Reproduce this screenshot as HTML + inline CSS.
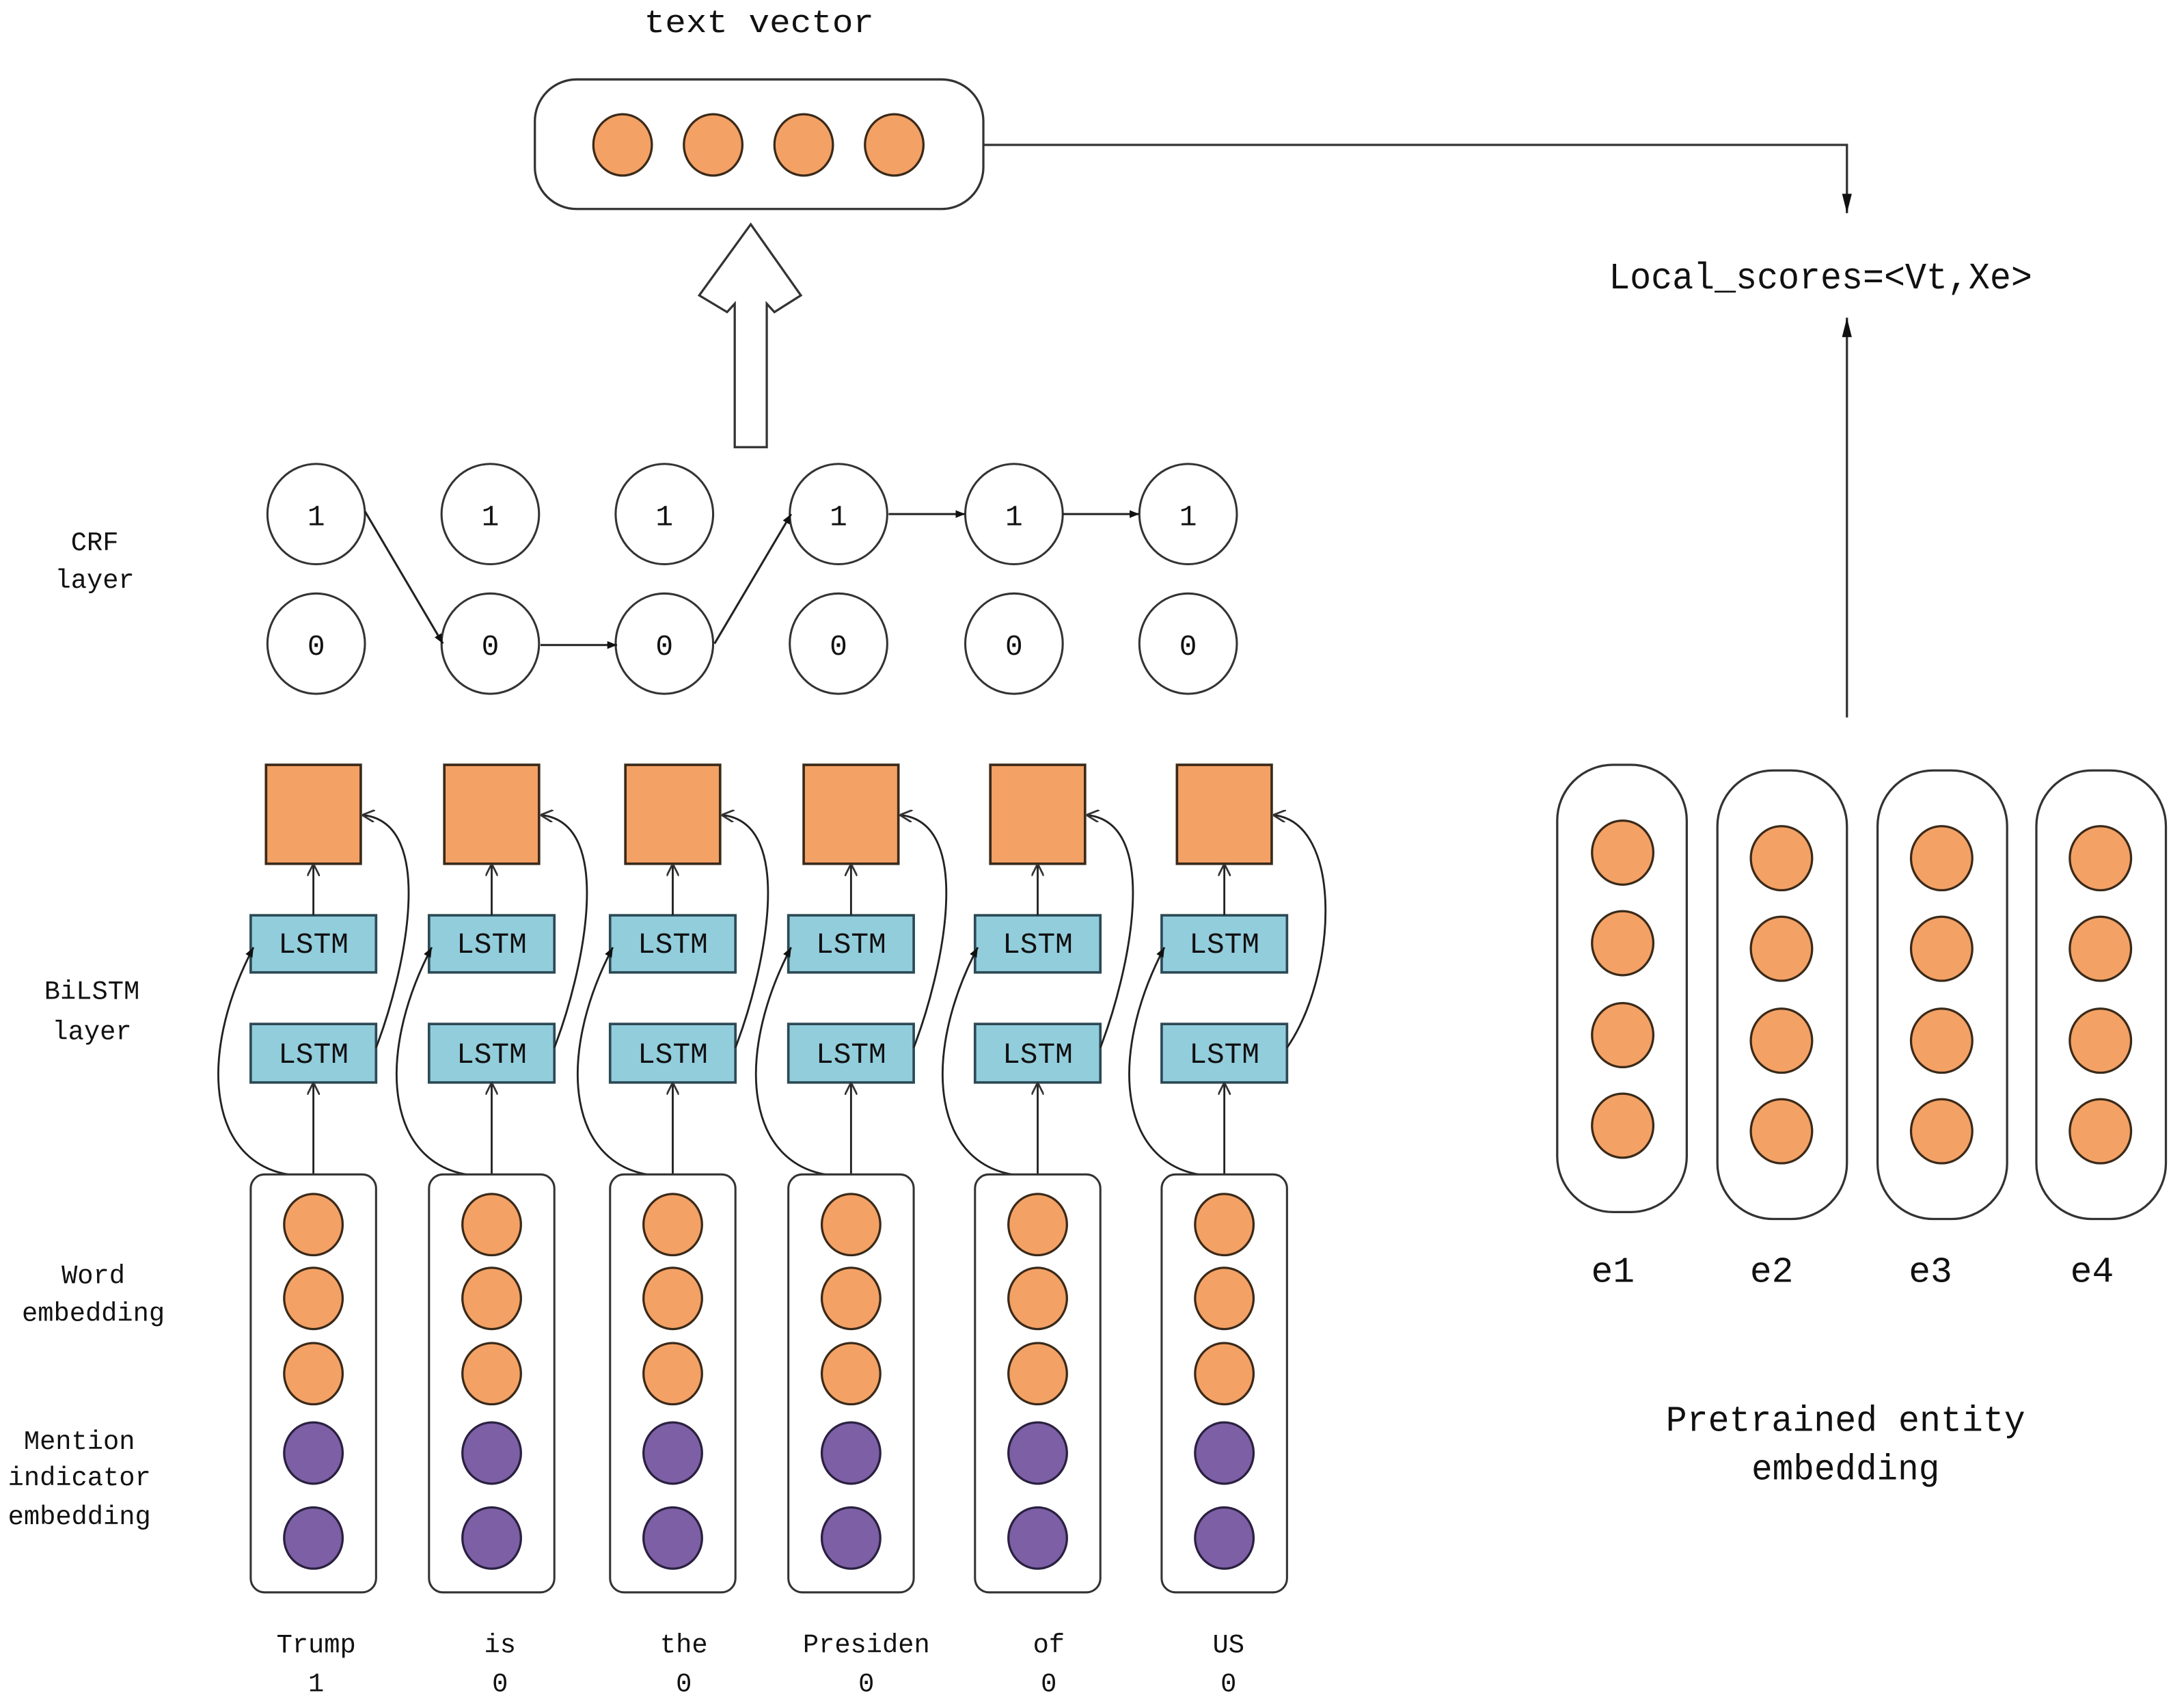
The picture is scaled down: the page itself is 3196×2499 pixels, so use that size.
<!DOCTYPE html>
<html><head><meta charset="utf-8"><style>
html,body{margin:0;padding:0;background:#fff;}
svg{display:block;}
text{font-family:"Liberation Mono","DejaVu Sans Mono",monospace;fill:#111;}
</style></head><body>
<svg width="3196" height="2499" viewBox="0 0 1568 1226" preserveAspectRatio="none" xmlns="http://www.w3.org/2000/svg">
<defs>
<marker id="ah" viewBox="0 0 10 10" refX="10" refY="5" markerWidth="7" markerHeight="7" orient="auto-start-reverse" markerUnits="userSpaceOnUse">
<path d="M0,1 L10,5 L0,9 z" fill="#111"/></marker>
<marker id="ao" viewBox="0 0 10 10" refX="10" refY="5" markerWidth="9" markerHeight="9" orient="auto" markerUnits="userSpaceOnUse">
<path d="M0,0 L10,5 L0,10" fill="none" stroke="#333" stroke-width="1.5"/></marker>
<marker id="ab" viewBox="0 0 10 10" refX="10" refY="5" markerWidth="14" markerHeight="14" orient="auto" markerUnits="userSpaceOnUse">
<path d="M0,2.5 L10,5 L0,7.5 z" fill="#111"/></marker>
</defs>

<!-- text vector -->
<text x="545" y="23" font-size="23" text-anchor="middle" textLength="165" lengthAdjust="spacingAndGlyphs">text vector</text>
<rect x="384" y="57" width="322" height="93" rx="30" fill="#fff" stroke="#333" stroke-width="1.6"/>
<g fill="#F4A165" stroke="#3a2a1a" stroke-width="1.6">
<ellipse cx="447" cy="104" rx="21" ry="22"/><ellipse cx="512" cy="104" rx="21" ry="22"/>
<ellipse cx="577" cy="104" rx="21" ry="22"/><ellipse cx="642" cy="104" rx="21" ry="22"/>
</g>
<polyline points="706,104 1326,104 1326,153" fill="none" stroke="#333" stroke-width="1.6" marker-end="url(#ab)"/>
<text x="1307" y="207" font-size="27" text-anchor="middle" textLength="304" lengthAdjust="spacingAndGlyphs">Local_scores=&lt;Vt,Xe&gt;</text>
<line x1="1326" y1="515" x2="1326" y2="228" stroke="#333" stroke-width="1.6" marker-end="url(#ab)"/>

<!-- big hollow arrow -->
<polygon points="527.5,321 550.5,321 550.5,218 556,224 575,212 539,161 502,212 522,224 527.5,218" fill="#fff" stroke="#333" stroke-width="1.6"/>

<!-- labels -->
<g font-size="19" text-anchor="middle">
<text x="68" y="395">CRF</text><text x="68" y="422">layer</text>
<text x="66" y="717">BiLSTM</text><text x="66" y="746">layer</text>
<text x="67" y="921">Word</text><text x="67" y="948">embedding</text>
<text x="57" y="1040">Mention</text><text x="57" y="1066">indicator</text><text x="57" y="1094">embedding</text>
</g>

<!-- CRF -->
<g fill="#fff" stroke="#333" stroke-width="1.5">
<ellipse cx="227" cy="369" rx="35" ry="36"/><ellipse cx="352" cy="369" rx="35" ry="36"/><ellipse cx="477" cy="369" rx="35" ry="36"/>
<ellipse cx="602" cy="369" rx="35" ry="36"/><ellipse cx="728" cy="369" rx="35" ry="36"/><ellipse cx="853" cy="369" rx="35" ry="36"/>
<ellipse cx="227" cy="462" rx="35" ry="36"/><ellipse cx="352" cy="462" rx="35" ry="36"/><ellipse cx="477" cy="462" rx="35" ry="36"/>
<ellipse cx="602" cy="462" rx="35" ry="36"/><ellipse cx="728" cy="462" rx="35" ry="36"/><ellipse cx="853" cy="462" rx="35" ry="36"/>
</g>
<g font-size="21" text-anchor="middle">
<text x="227" y="377">1</text><text x="352" y="377">1</text><text x="477" y="377">1</text><text x="602" y="377">1</text><text x="728" y="377">1</text><text x="853" y="377">1</text>
<text x="227" y="470">0</text><text x="352" y="470">0</text><text x="477" y="470">0</text><text x="602" y="470">0</text><text x="728" y="470">0</text><text x="853" y="470">0</text>
</g>
<g stroke="#222" stroke-width="1.5" fill="none">
<line x1="262" y1="367" x2="318" y2="462" marker-end="url(#ah)"/>
<line x1="388" y1="463" x2="443" y2="463" marker-end="url(#ah)"/>
<line x1="513" y1="462" x2="568" y2="369" marker-end="url(#ah)"/>
<line x1="638" y1="369" x2="693" y2="369" marker-end="url(#ah)"/>
<line x1="763" y1="369" x2="818" y2="369" marker-end="url(#ah)"/>
</g>

<!-- BiLSTM columns -->
<g id="cols">
</g>
<g stroke="#3a2a1a" stroke-width="1.8" fill="#F4A165">
<rect x="191" y="549" width="68" height="71"/><rect x="319" y="549" width="68" height="71"/><rect x="449" y="549" width="68" height="71"/>
<rect x="577" y="549" width="68" height="71"/><rect x="711" y="549" width="68" height="71"/><rect x="845" y="549" width="68" height="71"/>
</g>
<g stroke="#2c4a55" stroke-width="1.8" fill="#92CDDC">
<rect x="180" y="657" width="90" height="41"/><rect x="308" y="657" width="90" height="41"/><rect x="438" y="657" width="90" height="41"/>
<rect x="566" y="657" width="90" height="41"/><rect x="700" y="657" width="90" height="41"/><rect x="834" y="657" width="90" height="41"/>
<rect x="180" y="735" width="90" height="42"/><rect x="308" y="735" width="90" height="42"/><rect x="438" y="735" width="90" height="42"/>
<rect x="566" y="735" width="90" height="42"/><rect x="700" y="735" width="90" height="42"/><rect x="834" y="735" width="90" height="42"/>
</g>
<g font-size="21" text-anchor="middle">
<text x="225" y="684">LSTM</text><text x="353" y="684">LSTM</text><text x="483" y="684">LSTM</text><text x="611" y="684">LSTM</text><text x="745" y="684">LSTM</text><text x="879" y="684">LSTM</text>
<text x="225" y="763">LSTM</text><text x="353" y="763">LSTM</text><text x="483" y="763">LSTM</text><text x="611" y="763">LSTM</text><text x="745" y="763">LSTM</text><text x="879" y="763">LSTM</text>
</g>
<g stroke="#222" stroke-width="1.4" fill="none">
<!-- vertical arrows -->
<line x1="225" y1="845" x2="225" y2="777" marker-end="url(#ao)"/><line x1="225" y1="657" x2="225" y2="620" marker-end="url(#ao)"/>
<line x1="353" y1="845" x2="353" y2="777" marker-end="url(#ao)"/><line x1="353" y1="657" x2="353" y2="620" marker-end="url(#ao)"/>
<line x1="483" y1="845" x2="483" y2="777" marker-end="url(#ao)"/><line x1="483" y1="657" x2="483" y2="620" marker-end="url(#ao)"/>
<line x1="611" y1="845" x2="611" y2="777" marker-end="url(#ao)"/><line x1="611" y1="657" x2="611" y2="620" marker-end="url(#ao)"/>
<line x1="745" y1="845" x2="745" y2="777" marker-end="url(#ao)"/><line x1="745" y1="657" x2="745" y2="620" marker-end="url(#ao)"/>
<line x1="879" y1="845" x2="879" y2="777" marker-end="url(#ao)"/><line x1="879" y1="657" x2="879" y2="620" marker-end="url(#ao)"/>
<!-- left curves: column top -> top LSTM left -->
<path d="M215,844 C150,840 140,760 182,680" marker-end="url(#ah)"/>
<path d="M343,844 C278,840 268,760 310,680" marker-end="url(#ah)"/>
<path d="M473,844 C408,840 398,760 440,680" marker-end="url(#ah)"/>
<path d="M601,844 C536,840 526,760 568,680" marker-end="url(#ah)"/>
<path d="M735,844 C670,840 660,760 702,680" marker-end="url(#ah)"/>
<path d="M869,844 C804,840 794,760 836,680" marker-end="url(#ah)"/>
<!-- right curves: bottom LSTM right -> square right -->
<path d="M270,752 C290,700 315,590 260,585" marker-end="url(#ao)"/>
<path d="M398,752 C418,700 443,590 388,585" marker-end="url(#ao)"/>
<path d="M528,752 C548,700 573,590 518,585" marker-end="url(#ao)"/>
<path d="M656,752 C676,700 701,590 646,585" marker-end="url(#ao)"/>
<path d="M790,752 C810,700 835,590 780,585" marker-end="url(#ao)"/>
<path d="M924,752 C960,700 965,590 914,585" marker-end="url(#ao)"/>
</g>

<!-- word columns -->
<g fill="#fff" stroke="#333" stroke-width="1.5">
<rect x="180" y="843" width="90" height="300" rx="10"/><rect x="308" y="843" width="90" height="300" rx="10"/>
<rect x="438" y="843" width="90" height="300" rx="10"/><rect x="566" y="843" width="90" height="300" rx="10"/>
<rect x="700" y="843" width="90" height="300" rx="10"/><rect x="834" y="843" width="90" height="300" rx="10"/>
</g>
<g stroke="#3a2a1a" stroke-width="1.6" fill="#F4A165">
<ellipse cx="225" cy="879" rx="21" ry="22"/><ellipse cx="225" cy="932" rx="21" ry="22"/><ellipse cx="225" cy="986" rx="21" ry="22"/>
<ellipse cx="353" cy="879" rx="21" ry="22"/><ellipse cx="353" cy="932" rx="21" ry="22"/><ellipse cx="353" cy="986" rx="21" ry="22"/>
<ellipse cx="483" cy="879" rx="21" ry="22"/><ellipse cx="483" cy="932" rx="21" ry="22"/><ellipse cx="483" cy="986" rx="21" ry="22"/>
<ellipse cx="611" cy="879" rx="21" ry="22"/><ellipse cx="611" cy="932" rx="21" ry="22"/><ellipse cx="611" cy="986" rx="21" ry="22"/>
<ellipse cx="745" cy="879" rx="21" ry="22"/><ellipse cx="745" cy="932" rx="21" ry="22"/><ellipse cx="745" cy="986" rx="21" ry="22"/>
<ellipse cx="879" cy="879" rx="21" ry="22"/><ellipse cx="879" cy="932" rx="21" ry="22"/><ellipse cx="879" cy="986" rx="21" ry="22"/>
</g>
<g stroke="#2a2040" stroke-width="1.6" fill="#7D5FA5">
<ellipse cx="225" cy="1043" rx="21" ry="22"/><ellipse cx="225" cy="1104" rx="21" ry="22"/>
<ellipse cx="353" cy="1043" rx="21" ry="22"/><ellipse cx="353" cy="1104" rx="21" ry="22"/>
<ellipse cx="483" cy="1043" rx="21" ry="22"/><ellipse cx="483" cy="1104" rx="21" ry="22"/>
<ellipse cx="611" cy="1043" rx="21" ry="22"/><ellipse cx="611" cy="1104" rx="21" ry="22"/>
<ellipse cx="745" cy="1043" rx="21" ry="22"/><ellipse cx="745" cy="1104" rx="21" ry="22"/>
<ellipse cx="879" cy="1043" rx="21" ry="22"/><ellipse cx="879" cy="1104" rx="21" ry="22"/>
</g>
<g font-size="19" text-anchor="middle">
<text x="227" y="1186">Trump</text><text x="227" y="1214">1</text>
<text x="359" y="1186">is</text><text x="359" y="1214">0</text>
<text x="491" y="1186">the</text><text x="491" y="1214">0</text>
<text x="622" y="1186">Presiden</text><text x="622" y="1214">0</text>
<text x="753" y="1186">of</text><text x="753" y="1214">0</text>
<text x="882" y="1186">US</text><text x="882" y="1214">0</text>
</g>

<!-- entity embeddings -->
<g fill="#fff" stroke="#333" stroke-width="1.6">
<rect x="1118" y="549" width="93" height="321" rx="40"/>
<rect x="1233" y="553" width="93" height="322" rx="40"/>
<rect x="1348" y="553" width="93" height="322" rx="40"/>
<rect x="1462" y="553" width="93" height="322" rx="40"/>
</g>
<g stroke="#3a2a1a" stroke-width="1.6" fill="#F4A165">
<ellipse cx="1165" cy="612" rx="22" ry="23"/><ellipse cx="1165" cy="677" rx="22" ry="23"/><ellipse cx="1165" cy="743" rx="22" ry="23"/><ellipse cx="1165" cy="808" rx="22" ry="23"/>
<ellipse cx="1279" cy="616" rx="22" ry="23"/><ellipse cx="1279" cy="681" rx="22" ry="23"/><ellipse cx="1279" cy="747" rx="22" ry="23"/><ellipse cx="1279" cy="812" rx="22" ry="23"/>
<ellipse cx="1394" cy="616" rx="22" ry="23"/><ellipse cx="1394" cy="681" rx="22" ry="23"/><ellipse cx="1394" cy="747" rx="22" ry="23"/><ellipse cx="1394" cy="812" rx="22" ry="23"/>
<ellipse cx="1508" cy="616" rx="22" ry="23"/><ellipse cx="1508" cy="681" rx="22" ry="23"/><ellipse cx="1508" cy="747" rx="22" ry="23"/><ellipse cx="1508" cy="812" rx="22" ry="23"/>
</g>
<g font-size="26" text-anchor="middle">
<text x="1158" y="920">e1</text><text x="1272" y="920">e2</text><text x="1386" y="920">e3</text><text x="1502" y="920">e4</text>
<text x="1325" y="1027" textLength="258" lengthAdjust="spacingAndGlyphs">Pretrained entity</text>
<text x="1325" y="1062" textLength="135" lengthAdjust="spacingAndGlyphs">embedding</text>
</g>
</svg>
</body></html>
